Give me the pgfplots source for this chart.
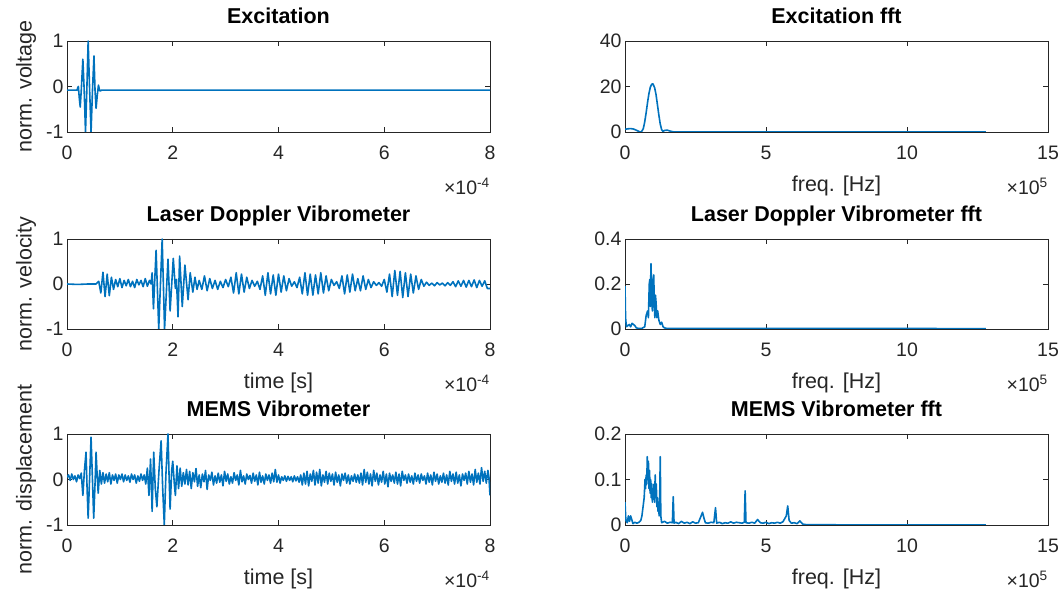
\documentclass[border=0pt]{standalone}
\usepackage{fontspec}
\setmainfont{Liberation Sans}
\usepackage{pgfplots}
\pgfplotsset{compat=1.18}
\definecolor{mblue}{RGB}{0,114,189}
\definecolor{axgray}{RGB}{38,38,38}
\pgfplotsset{
 mstyle/.style={
  scale only axis, width=423pt, height=91pt,
  axis line style={axgray, line width=0.8pt},
  tick style={axgray, line width=0.8pt},
  major tick length=5pt,
  tick align=inside, tick pos=both,
  tick label style={font=\fontsize{19.5}{22}\selectfont, color=axgray},
  /pgf/number format/assume math mode=true,
  xticklabel style={yshift=-10.5pt},
  label style={font=\fontsize{21.5}{24}\selectfont, color=axgray},
  title style={font=\fontsize{21.5}{24}\selectfont\bfseries, at={([yshift=11pt]axis description cs:0.5,1)}, anchor=base},
  xlabel style={at={([yshift=-54pt]axis description cs:0.5,0)}, anchor=center},
  ylabel style={at={([xshift=-41pt]axis description cs:0,0.5)}, anchor=center},
  cycle list={{mblue, mark=none}},
  every axis plot/.append style={line width=1.6pt, line join=round},
 },
 tstyle/.style={mstyle, xmin=0,xmax=8, ymin=-1,ymax=1, xtick={0,2,4,6,8}, ytick={-1,0,1}},
 fstyle/.style={mstyle, xmin=0,xmax=15, ymin=0, xtick={0,5,10,15}},
}
\begin{document}
\begin{tikzpicture}
\useasboundingbox (0,0) rectangle (1061pt,591pt);
% ---------- Excitation ----------
\begin{axis}[tstyle, at={(67pt,459pt)}, anchor=south west, title={Excitation}, ylabel={norm. voltage}]
\addplot coordinates {(0,-0.08)(0.19,-0.08)(0.205,-0.02)(0.215,0.00)(0.232,-0.25)(0.250,-0.45)(0.270,-0.08)(0.300,0.60)(0.325,-0.08)(0.350,-1.00)(0.375,-0.08)(0.400,1.00)(0.428,-0.08)(0.455,-1.00)(0.482,-0.08)(0.510,0.67)(0.530,-0.08)(0.550,-0.48)(0.572,-0.20)(0.595,0.03)(0.615,-0.08)(0.63,-0.10)(0.65,-0.08)(8.0,-0.08)};
\end{axis}
% ---------- LDV ----------
\begin{axis}[tstyle, at={(67pt,262pt)}, anchor=south west, height=90pt, title={Laser Doppler Vibrometer}, ylabel={norm. velocity}, xlabel={time [s]}]
\addplot coordinates {(0,0)(0.2,-0.01)(0.4,0.0)(0.55,0.0)(0.60,0.06)(0.64,-0.20)(0.68,0.26)(0.72,-0.28)(0.76,0.22)(0.80,-0.26)(0.84,0.15)(0.88,-0.12)(0.92,0.10)(0.96,-0.06)(1.00,0.12)(1.04,-0.08)(1.08,0.08)(1.12,-0.04)(1.16,0.10)(1.20,-0.06)(1.24,0.06)(1.28,-0.08)(1.32,0.10)(1.36,-0.02)(1.40,0.08)(1.44,-0.06)(1.48,0.12)(1.52,-0.05)(1.56,0.08)(1.59,0.0)
(1.61,0.25)(1.635,-0.55)(1.685,0.75)(1.735,-1.0)(1.80,1.0)(1.845,-1.0)(1.91,0.55)(1.95,-0.6)(2.01,0.57)(2.05,-0.1)(2.07,0.1)(2.10,-0.73)(2.13,0.62)(2.18,-0.5)(2.23,0.42)(2.29,-0.35)(2.33,0.25)(2.38,-0.18)(2.42,0.15)(2.46,-0.12)(2.50,0.08)
(2.55,-0.12)(2.60,0.18)(2.65,-0.15)(2.70,0.12)(2.75,-0.10)(2.80,0.08)(2.85,-0.12)(2.90,0.06)(2.95,-0.08)(3.00,0.10)(3.05,-0.06)(3.10,0.15)(3.15,-0.20)(3.20,0.25)(3.25,-0.22)(3.30,0.22)(3.35,-0.18)(3.40,0.15)(3.45,-0.10)(3.50,0.08)(3.55,-0.05)(3.60,0.06)(3.65,-0.12)(3.70,0.18)(3.75,-0.25)(3.80,0.25)(3.85,-0.22)(3.90,0.20)(3.95,-0.25)(4.00,0.22)(4.05,-0.18)(4.10,0.18)(4.15,-0.15)(4.20,0.12)(4.25,-0.05)(4.30,0.05)(4.35,-0.08)(4.40,0.15)(4.45,-0.22)(4.50,0.25)(4.55,-0.25)(4.60,0.22)(4.65,-0.25)(4.70,0.20)(4.75,-0.22)(4.80,0.25)(4.85,-0.20)(4.90,0.18)(4.95,-0.15)(5.00,0.10)(5.05,-0.03)(5.10,0.05)(5.15,-0.10)(5.20,0.18)(5.25,-0.22)(5.30,0.20)(5.35,-0.18)(5.40,0.22)(5.45,-0.15)(5.50,0.12)(5.55,-0.15)(5.60,0.18)(5.65,-0.12)(5.70,0.10)(5.75,-0.08)(5.80,0.05)(5.85,-0.03)(5.90,0.03)(5.95,-0.05)(6.00,0.10)(6.05,-0.18)(6.10,0.22)(6.15,-0.28)(6.20,0.30)(6.25,-0.25)(6.30,0.28)(6.35,-0.30)(6.40,0.25)(6.45,-0.28)(6.50,0.22)(6.55,-0.20)(6.60,0.18)(6.65,-0.12)(6.70,0.10)(6.75,-0.05)(6.80,0.04)(6.85,-0.03)(6.90,0.02)(6.95,-0.04)(7.00,0.03)(7.05,-0.02)(7.10,0.02)(7.15,-0.04)(7.20,0.03)(7.25,-0.03)(7.30,0.05)(7.35,-0.06)(7.40,0.07)(7.45,-0.05)(7.50,0.08)(7.55,-0.07)(7.60,0.08)(7.65,-0.06)(7.70,0.09)(7.75,-0.08)(7.80,0.08)(7.85,-0.05)(7.90,0.07)(7.95,-0.10)(8.00,-0.10)};
\end{axis}
% ---------- MEMS ----------
\begin{axis}[tstyle, at={(67pt,66pt)}, anchor=south west, title={MEMS Vibrometer}, ylabel={norm. displacement}, xlabel={time [s]}]
\addplot coordinates {(0.00,0.05)(0.03,0.10)(0.06,-0.02)(0.09,0.12)(0.12,0.00)(0.15,0.08)(0.18,-0.05)(0.21,0.10)(0.24,0.02)(0.27,0.14)(0.30,-0.35)(0.33,0.20)(0.36,0.60)(0.38,-0.20)(0.40,-0.85)(0.43,0.10)(0.455,0.93)(0.48,0.05)(0.505,-0.85)(0.53,-0.10)(0.55,0.60)(0.57,0.10)(0.59,-0.30)(0.62,0.20)(0.65,-0.10)(0.68,0.15)(0.71,-0.08)(0.74,0.12)(0.77,-0.05)(0.80,0.15)(0.83,-0.10)(0.86,0.10)(0.89,-0.02)(0.92,0.12)(0.95,-0.08)(0.98,0.10)(1.01,0.00)(1.04,0.12)(1.07,-0.05)(1.10,0.10)(1.13,-0.02)(1.16,0.08)(1.19,-0.06)(1.22,0.12)(1.25,0.00)(1.28,0.10)(1.31,-0.08)(1.34,0.08)(1.37,-0.04)(1.40,0.12)(1.43,-0.02)(1.46,0.10)(1.49,-0.10)(1.52,0.25)(1.55,-0.35)(1.58,0.45)(1.61,-0.70)(1.64,0.60)(1.67,-0.20)(1.70,-0.60)(1.74,0.20)(1.78,0.85)(1.81,-0.20)(1.84,-1.00)(1.87,0.10)(1.91,1.00)(1.93,0.10)(1.95,-0.65)(1.98,0.20)(2.00,0.40)(2.03,-0.10)
(2.05,-0.35)(2.08,0.30)(2.11,-0.20)(2.14,0.25)(2.17,-0.15)(2.20,0.15)(2.23,-0.10)(2.26,0.22)(2.29,-0.12)(2.32,0.18)(2.35,-0.20)(2.38,0.15)(2.41,-0.05)(2.44,0.24)(2.47,-0.15)(2.50,0.10)(2.53,-0.18)(2.56,0.12)(2.59,-0.05)(2.62,0.20)(2.65,-0.22)(2.68,0.10)(2.71,-0.02)(2.74,0.16)(2.77,-0.12)(2.80,0.08)(2.83,-0.08)(2.86,0.14)(2.89,-0.06)(2.92,0.10)(2.95,-0.14)(2.98,0.18)(3.01,-0.04)(3.04,0.12)(3.07,-0.10)(3.10,0.06)(3.13,-0.08)(3.16,0.15)(3.19,-0.02)(3.22,0.10)(3.25,-0.12)(3.28,0.20)(3.31,-0.05)(3.34,0.08)(3.37,-0.10)(3.40,0.12)(3.43,0.00)(3.46,0.09)(3.49,-0.08)(3.52,0.14)(3.55,-0.04)(3.58,0.10)(3.61,-0.12)(3.64,0.16)(3.67,-0.06)(3.70,0.08)(3.73,-0.10)(3.76,0.12)(3.79,-0.02)(3.82,0.10)(3.85,-0.08)(3.88,0.14)(3.91,-0.05)(3.94,0.22)(3.97,-0.06)(4.00,0.10)(4.03,-0.08)(4.06,0.06)(4.09,-0.02)(4.12,0.08)(4.15,-0.04)(4.18,0.07)(4.21,-0.02)(4.24,0.06)(4.27,-0.05)(4.30,0.08)(4.33,-0.03)(4.36,0.06)(4.39,-0.06)(4.42,0.10)(4.45,-0.12)(4.48,0.14)(4.51,-0.10)(4.54,0.18)(4.57,-0.14)(4.60,0.12)(4.63,-0.04)(4.66,0.20)(4.69,-0.12)(4.72,0.16)(4.75,-0.08)(4.78,0.22)(4.81,-0.14)(4.84,0.10)(4.87,-0.06)(4.90,0.18)(4.93,-0.10)(4.96,0.14)(4.99,-0.04)(5.02,0.12)(5.05,-0.12)(5.08,0.16)(5.11,-0.06)(5.14,0.10)(5.17,-0.14)(5.20,0.12)(5.23,-0.02)(5.26,0.14)(5.29,-0.08)(5.32,0.10)(5.35,-0.10)(5.38,0.08)(5.41,-0.04)(5.44,0.12)(5.47,-0.06)(5.50,0.10)(5.53,-0.08)(5.56,0.14)(5.59,-0.12)(5.62,0.22)(5.65,-0.06)(5.68,0.16)(5.71,-0.10)(5.74,0.12)(5.77,-0.14)(5.80,0.20)(5.83,-0.04)(5.86,0.14)(5.89,-0.12)(5.92,0.10)(5.95,-0.06)(5.98,0.18)(6.01,-0.10)(6.04,0.12)(6.07,-0.16)(6.10,0.14)(6.13,-0.04)(6.16,0.10)(6.19,-0.08)(6.22,0.16)(6.25,-0.10)(6.28,0.12)(6.31,-0.14)(6.34,0.18)(6.37,-0.02)(6.40,0.10)(6.43,-0.08)(6.46,0.12)(6.49,-0.06)(6.52,0.08)(6.55,-0.10)(6.58,0.14)(6.61,-0.04)(6.64,0.10)(6.67,-0.08)(6.70,0.12)(6.73,-0.02)(6.76,0.08)(6.79,-0.10)(6.82,0.14)(6.85,-0.06)(6.88,0.10)(6.91,-0.12)(6.94,0.16)(6.97,-0.04)(7.00,0.12)(7.03,-0.10)(7.06,0.08)(7.09,-0.06)(7.12,0.14)(7.15,-0.08)(7.18,0.10)(7.21,-0.12)(7.24,0.18)(7.27,-0.04)(7.30,0.12)(7.33,-0.10)(7.36,0.16)(7.39,-0.08)(7.42,0.10)(7.45,-0.14)(7.48,0.12)(7.51,-0.02)(7.54,0.14)(7.57,-0.10)(7.60,0.18)(7.63,-0.06)(7.66,0.12)(7.69,-0.12)(7.72,0.22)(7.75,-0.06)(7.78,0.14)(7.81,-0.10)(7.84,0.26)(7.87,-0.04)(7.90,0.18)(7.93,-0.08)(7.96,0.20)(7.98,0.05)(8.00,-0.35)};
\end{axis}
% ---------- Excitation fft ----------
\begin{axis}[fstyle, at={(625pt,459pt)}, anchor=south west, ymax=40, ytick={0,20,40}, title={Excitation fft}, xlabel={freq. [Hz]}]
\addplot coordinates {(0,1.2)(0.1,1.4)(0.2,1.5)(0.3,1.3)(0.4,0.8)(0.5,0.2)(0.58,0.0)(0.65,1.5)(0.7,4.5)(0.75,8.5)(0.8,13)(0.85,17)(0.9,19.8)(0.95,21.0)(0.99,21.2)(1.05,19.5)(1.1,16.5)(1.15,12)(1.2,7.5)(1.25,3.5)(1.3,1.0)(1.35,0.2)(1.4,0.7)(1.5,0.8)(1.6,0.4)(1.7,0.1)(1.8,0.0)(12.8,0.0)};
\end{axis}
% ---------- LDV fft ----------
\begin{axis}[fstyle, at={(625pt,262pt)}, anchor=south west, height=90pt, ymax=0.4, ytick={0,0.2,0.4}, title={Laser Doppler Vibrometer fft}, xlabel={freq. [Hz]}]
\addplot coordinates {(0,0.19)(0.02,0.05)(0.05,0.01)(0.1,0.015)(0.15,0.02)(0.2,0.01)(0.25,0.025)(0.3,0.02)(0.35,0.015)(0.4,0.005)(0.5,0.002)(0.6,0.003)(0.7,0.01)(0.75,0.06)(0.8,0.08)(0.83,0.05)(0.86,0.20)(0.88,0.22)(0.90,0.10)(0.92,0.29)(0.95,0.15)(0.97,0.08)(1.00,0.22)(1.02,0.24)(1.04,0.10)(1.06,0.05)(1.08,0.15)(1.10,0.12)(1.13,0.05)(1.16,0.08)(1.2,0.04)(1.25,0.02)(1.3,0.03)(1.35,0.01)(1.4,0.005)(1.5,0.002)(3,0.003)(5,0.002)(7,0.003)(9,0.002)(11,0.002)(12.8,0.001)};
\end{axis}
% ---------- MEMS fft ----------
\begin{axis}[fstyle, at={(625pt,66pt)}, anchor=south west, ymax=0.2, ytick={0,0.1,0.2}, title={MEMS Vibrometer fft}, xlabel={freq. [Hz]}]
\addplot coordinates {(0,0.05)(0.03,0.01)(0.08,0.005)(0.12,0.02)(0.16,0.008)(0.2,0.02)(0.24,0.012)(0.28,0.003)(0.35,0.006)(0.42,0.004)(0.5,0.006)(0.56,0.01)(0.60,0.02)(0.64,0.04)(0.68,0.06)(0.71,0.10)(0.73,0.08)(0.75,0.11)(0.77,0.09)(0.79,0.15)(0.81,0.10)(0.83,0.14)(0.85,0.08)(0.87,0.12)(0.89,0.07)(0.91,0.10)(0.93,0.06)(0.95,0.09)(0.97,0.05)(0.99,0.08)(1.01,0.06)(1.03,0.09)(1.05,0.05)(1.07,0.11)(1.09,0.06)(1.11,0.09)(1.13,0.04)(1.15,0.06)(1.17,0.03)(1.19,0.05)(1.21,0.02)(1.23,0.06)(1.25,0.15)(1.27,0.02)(1.30,0.005)(1.40,0.008)(1.50,0.004)(1.60,0.006)(1.68,0.005)(1.71,0.062)(1.74,0.004)(1.8,0.006)(1.9,0.003)(2.0,0.008)(2.1,0.004)(2.2,0.006)(2.3,0.003)(2.4,0.007)(2.5,0.004)(2.6,0.005)(2.7,0.02)(2.75,0.028)(2.8,0.015)(2.85,0.005)(2.95,0.004)(3.05,0.006)(3.15,0.005)(3.21,0.038)(3.25,0.004)(3.35,0.006)(3.45,0.003)(3.55,0.005)(3.65,0.004)(3.75,0.007)(3.85,0.004)(3.95,0.006)(4.05,0.005)(4.15,0.004)(4.23,0.006)(4.26,0.075)(4.29,0.005)(4.4,0.004)(4.5,0.006)(4.6,0.004)(4.7,0.012)(4.8,0.005)(4.9,0.004)(5.0,0.006)(5.1,0.003)(5.2,0.005)(5.3,0.004)(5.4,0.006)(5.5,0.004)(5.6,0.007)(5.72,0.02)(5.77,0.042)(5.82,0.01)(5.9,0.004)(6.0,0.005)(6.1,0.003)(6.2,0.009)(6.3,0.002)(6.4,0.001)(6.6,0.0005)(12.8,0.0)};
\end{axis}
% ---------- tick scale labels ----------
\begin{scope}[every node/.style={anchor=base east, inner sep=0pt, font=\fontsize{19.5}{22}\selectfont, text=axgray}]
\node at (490pt,396pt) {×10\textsuperscript{-4}};
\node at (490pt,199pt) {×10\textsuperscript{-4}};
\node at (490pt,3pt) {×10\textsuperscript{-4}};
\node at (1048pt,396pt) {×10\textsuperscript{5}};
\node at (1048pt,199pt) {×10\textsuperscript{5}};
\node at (1048pt,3pt) {×10\textsuperscript{5}};
\end{scope}
\end{tikzpicture}
\end{document}
